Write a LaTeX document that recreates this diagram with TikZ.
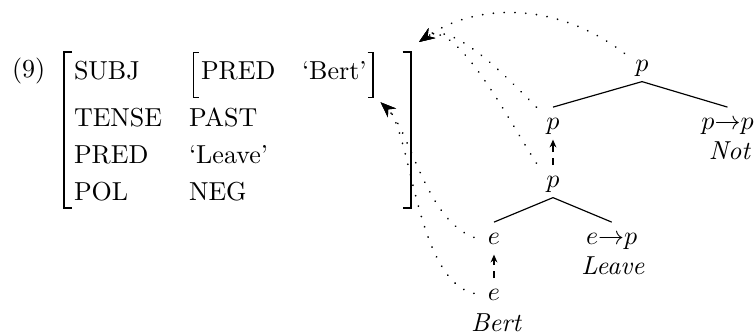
\documentclass[tikz,border=0pt]{standalone}
\usetikzlibrary{arrows.meta,calc}
\begin{document}
\begin{tikzpicture}[x=0.3846pt,y=-0.3846pt,
  txt/.style={anchor=base west,inner sep=0pt,outer sep=0pt},
  tnode/.style={anchor=base,inner sep=0pt,outer sep=0pt,text height=8.8pt,text depth=3.7pt},
  word/.style={anchor=base,inner sep=0pt,outer sep=0pt},
  branch/.style={line width=0.45pt},
  brack/.style={line width=0.7pt},
  lift/.style={line width=0.45pt,dash pattern=on 2.6pt off 2.4pt,-{Stealth[length=3pt,width=2.6pt]}},
  link/.style={line width=0.7pt,line cap=round,dash pattern=on 0.05pt off 4.1pt,-{Stealth[length=6pt,width=4.6pt]}},
]
\useasboundingbox (0,0) rectangle (756,336);

% ---- attribute-value matrix ----
\node[txt] (exnum) at (12,78) {(9)};
\node[txt] (fSubj)  at (74,80)  {SUBJ};
\node[txt] (fTense) at (74,127) {TENSE};
\node[txt] (fPred)  at (74,164) {PRED};
\node[txt] (fPol)   at (74,201) {POL};
\node[txt] (vPred)  at (201,80)  {PRED};
\node[txt] (vBert)  at (302,80)  {‘Bert’};
\node[txt] (vPast)  at (189,127) {PAST};
\node[txt] (vLeave) at (189,164) {‘Leave’};
\node[txt] (vNeg)   at (189,201) {NEG};

% outer brackets
\coordinate (avmNW) at (64,52);
\coordinate (avmSW) at (64,208);
\coordinate (avmNE) at (410.7,52);
\coordinate (avmSE) at (410.7,208);
\draw[brack] ($(avmNW)+(8,0)$) -- (avmNW) -- (avmSW) -- ++(8,0);
\draw[brack] ($(avmNE)+(-8,0)$) -- (avmNE) -- (avmSE) -- ++(-8,0);

% inner brackets round the SUBJ value
\coordinate (subjNW) at (193.3,52.5);
\coordinate (subjSW) at (193.3,97.7);
\coordinate (subjNE) at (373,52.5);
\coordinate (subjSE) at (373,97.7);
\draw[branch] ($(subjNW)+(5.5,0)$) -- (subjNW) -- (subjSW) -- ++(5.5,0);
\draw[branch] ($(subjNE)+(-5.5,0)$) -- (subjNE) -- (subjSE) -- ++(-5.5,0);

% arrow targets
\coordinate (fsTip) at ($(avmNE)+(8.3,-10)$);
\coordinate (subjTip) at ($(subjSE)+(7.5,4.5)$);

% ---- semantic tree ----
\node[tnode] (pTop)   at (642,72)    {$p$};
\node[tnode] (pMid)   at (553,130)   {$p$};
\node[tnode] (notT)   at (727.5,130) {$p{\to}p$};
\node[word]  (notW)   at (730,160)   {\textit{Not}};
\node[tnode] (pLow)   at (553,188)   {$p$};
\node[tnode] (eUp)    at (494,245)   {$e$};
\node[tnode] (leaveT) at (611.7,245) {$e{\to}p$};
\node[word]  (leaveW) at (613,275)   {\textit{Leave}};
\node[tnode] (eLow)   at (494,301)   {$e$};
\node[word]  (bertW)  at (496.5,332) {\textit{Bert}};

\draw[branch] (pTop.south) -- (pMid.north);
\draw[branch] (pTop.south) -- (notT.north);
\draw[branch] (pLow.south) -- (eUp.north);
\draw[branch] (pLow.south) -- (leaveT.north);

\draw[lift] (pLow.north) -- (pMid.south);
\draw[lift] (eLow.north) -- (eUp.south);

% ---- correspondence links ----
\draw[link] ($(pTop.west)+(-11,-12)$) .. controls +(-69,-53) and +(56,-38.5) .. (fsTip);
\draw[link] ($(pMid.north west)+(-10,0)$) .. controls +(-30,-30) and +(33,-22.7) .. (fsTip);
\draw[link] ($(pLow.north west)+(-10,-2)$) .. controls +(-24,-36) and +(37,-25.4) .. (fsTip);
\draw[link] ($(eUp.west)+(-14,-1)$) .. controls +(-48,-17) and +(29,27) .. (subjTip);
\draw[link] ($(eLow.west)+(-14,-1)$) .. controls +(-58,-13) and +(31,29) .. (subjTip);
\end{tikzpicture}
\end{document}
